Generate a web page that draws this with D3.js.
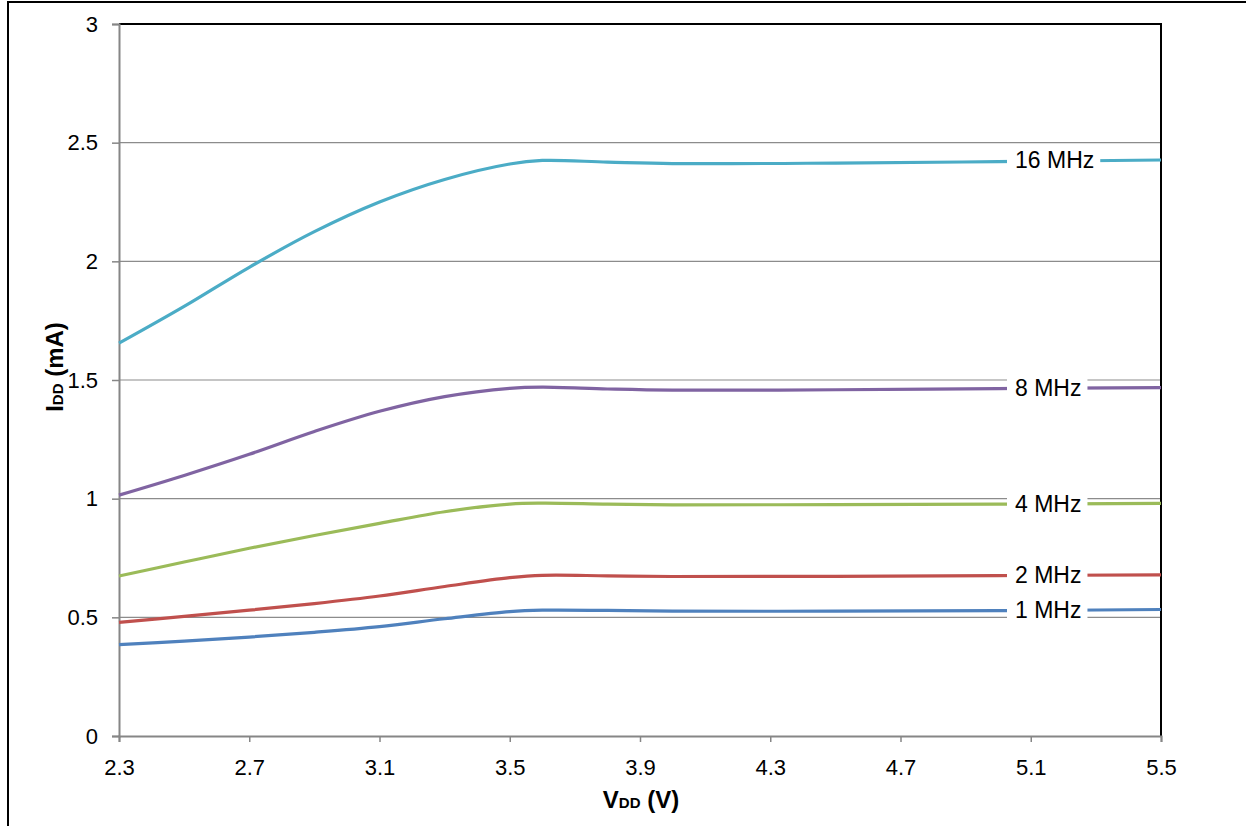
<!DOCTYPE html>
<html>
<head>
<meta charset="utf-8">
<script src="https://cdn.jsdelivr.net/npm/d3@7"></script>
<style>
  html, body { margin: 0; padding: 0; background: #fff; }
  svg { display: block; font-family: "Liberation Sans", Arial, sans-serif; }
</style>
</head>
<body>
<svg id="chart" width="1246" height="826"></svg>
<script>
// ---- data ----
const voltages = [2.3, 2.5, 2.7, 2.9, 3.1, 3.3, 3.5, 3.6, 3.8, 4.0, 4.5, 5.0, 5.5];
const seriesNames = ["1 MHz", "2 MHz", "4 MHz", "8 MHz", "16 MHz"];
const idd1MHz  = [0.385, 0.400, 0.417, 0.437, 0.461, 0.494, 0.524, 0.530, 0.529, 0.526, 0.526, 0.528, 0.533];
const idd2MHz  = [0.479, 0.504, 0.530, 0.558, 0.590, 0.630, 0.667, 0.677, 0.675, 0.672, 0.673, 0.676, 0.679];
const idd4MHz  = [0.674, 0.733, 0.791, 0.845, 0.896, 0.945, 0.977, 0.981, 0.977, 0.974, 0.975, 0.977, 0.980];
const idd8MHz  = [1.015, 1.098, 1.187, 1.283, 1.368, 1.430, 1.465, 1.470, 1.462, 1.457, 1.459, 1.464, 1.468];
const idd16MHz = [1.655, 1.810, 1.975, 2.125, 2.250, 2.345, 2.410, 2.425, 2.418, 2.412, 2.414, 2.420, 2.427];
const xTicks = [2.3, 2.7, 3.1, 3.5, 3.9, 4.3, 4.7, 5.1, 5.5];
const yTicks = [0, 0.5, 1, 1.5, 2, 2.5, 3];
const colors = ["#4F81BD", "#C0504D", "#9BBB59", "#8064A2", "#4BACC6"];

const seriesValues = [idd1MHz, idd2MHz, idd4MHz, idd8MHz, idd16MHz];

// ---- layout ----
const svg = d3.select("#chart");
const L = 119, R = 1161, T = 24, B = 736;
const x = d3.scaleLinear().domain([2.3, 5.5]).range([L, R]);
const y = d3.scaleLinear().domain([0, 3]).range([B, T]);
const FONT = "Liberation Sans, Arial, sans-serif";

// outer frame
svg.append("rect").attr("x", 8).attr("y", 2).attr("width", 1300).attr("height", 900)
  .attr("fill", "none").attr("stroke", "#000").attr("stroke-width", 2);

// gridlines
svg.append("g").selectAll("line").data(yTicks.filter(d => d > 0 && d < 3)).join("line")
  .attr("x1", L).attr("x2", R).attr("y1", d => y(d)).attr("y2", d => y(d))
  .attr("stroke", "#8C8C8C").attr("stroke-width", 1.2);

// plot border top & right (black)
svg.append("line").attr("x1", L).attr("x2", R + 1).attr("y1", T).attr("y2", T)
  .attr("stroke", "#000").attr("stroke-width", 2);
svg.append("line").attr("x1", R).attr("x2", R).attr("y1", T).attr("y2", B)
  .attr("stroke", "#000").attr("stroke-width", 2);

// y axis
const yAxis = d3.axisLeft(y).tickValues(yTicks).tickSize(7).tickPadding(14)
  .tickFormat(d => d3.format("")(d));
const gy = svg.append("g").attr("transform", `translate(${L},0)`).call(yAxis);
gy.select(".domain").attr("stroke", "#868686").attr("stroke-width", 2);
gy.selectAll(".tick line").attr("stroke", "#868686").attr("stroke-width", 1.5);
gy.selectAll(".tick text").attr("font-size", 22).attr("fill", "#000").attr("font-family", FONT);

// x axis
const xAxis = d3.axisBottom(x).tickValues(xTicks).tickSize(6).tickPadding(17)
  .tickFormat(d3.format(".1f"));
const gx = svg.append("g").attr("transform", `translate(0,${B})`).call(xAxis);
gx.select(".domain").attr("stroke", "#868686").attr("stroke-width", 2);
gx.selectAll(".tick line").attr("stroke", "#868686").attr("stroke-width", 1.5);
gx.selectAll(".tick text").attr("font-size", 22).attr("fill", "#000").attr("font-family", FONT);

// lines
const line = d3.line()
  .x((d, i) => x(voltages[i]))
  .y(d => y(d))
  .curve(d3.curveCatmullRom.alpha(0.5));

svg.append("g").selectAll("path").data(seriesValues).join("path")
  .attr("d", d => line(d))
  .attr("fill", "none")
  .attr("stroke", (d, i) => colors[i])
  .attr("stroke-width", 3.2)
  .attr("stroke-linecap", "butt");

// series labels with white boxes
const labelX = 1015;
const lg = svg.append("g");
seriesValues.forEach((vals, i) => {
  const yy = y(vals[vals.length - 1]);
  const g = lg.append("g");
  const t = g.append("text").attr("x", labelX).attr("y", yy).attr("dy", "0.36em")
    .attr("font-size", 23).attr("fill", "#000").attr("font-family", FONT).text(seriesNames[i]);
  const bb = t.node().getBBox();
  g.insert("rect", "text").attr("x", bb.x - 8).attr("y", yy - 11)
    .attr("width", bb.width + 14).attr("height", 22).attr("fill", "#fff");
});

// axis titles
const yt = svg.append("text")
  .attr("transform", "translate(63,367) rotate(-90)")
  .attr("text-anchor", "middle").attr("font-weight", "bold").attr("fill", "#000")
  .attr("font-family", FONT);
yt.append("tspan").attr("font-size", 24).text("I");
yt.append("tspan").attr("font-size", 15).text("DD");
yt.append("tspan").attr("font-size", 24).text(" (mA)");

const xt = svg.append("text")
  .attr("x", 641).attr("y", 808)
  .attr("text-anchor", "middle").attr("font-weight", "bold").attr("fill", "#000")
  .attr("font-family", FONT);
xt.append("tspan").attr("font-size", 24).text("V");
xt.append("tspan").attr("font-size", 15).text("DD");
xt.append("tspan").attr("font-size", 24).text(" (V)");
</script>
</body>
</html>
